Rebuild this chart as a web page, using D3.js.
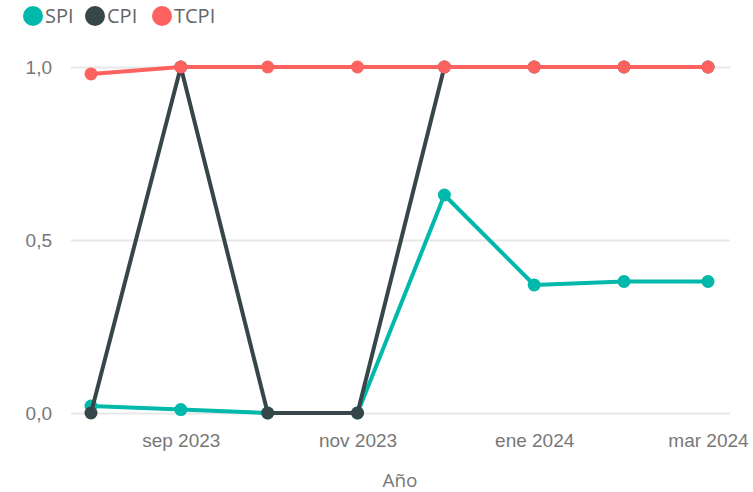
<!DOCTYPE html>
<html><head><meta charset="utf-8">
<script src="https://cdn.jsdelivr.net/npm/d3@7"></script>
<style>body{margin:0;background:#fff;}svg{display:block;font-family:"Open Sans","Noto Sans",sans-serif;}</style>
</head><body>
<svg id="c" width="753" height="492"></svg>
<script>
const dates = ["2023-08-01","2023-09-01","2023-10-01","2023-11-01","2023-12-01","2024-01-01","2024-02-01","2024-03-01"];
const spi  = [0.02, 0.01, 0.00, 0.00, 0.63, 0.37, 0.38, 0.38];
const cpi  = [0.00, 1.00, 0.00, 0.00, 1.00, 1.00, 1.00, 1.00];
const tcpi = [0.98, 1.00, 1.00, 1.00, 1.00, 1.00, 1.00, 1.00];
const seriesNames = ["SPI","CPI","TCPI"];
const colors = ["#01B8AA","#374649","#FD625E"];
const yTicks = [0, 0.5, 1.0];
const yTickLabels = ["0,0","0,5","1,0"];
const xTicks = ["2023-09-01","2023-11-01","2024-01-01","2024-03-01"];
const xTickLabels = ["sep 2023","nov 2023","ene 2024","mar 2024"];
const xTitle = "Año";

const parse = d3.timeParse("%Y-%m-%d");
const svg = d3.select("#c");
const x = d3.scaleTime().domain([parse(dates[0]), parse(dates[dates.length-1])]).range([91, 708]);
const y = d3.scaleLinear().domain([0, 1]).range([413, 67]);

const yAxis = d3.axisLeft(y).tickValues(yTicks).tickSize(-659).tickPadding(20)
  .tickFormat((d,i) => yTickLabels[i]);
const gy = svg.append("g").attr("transform","translate(71,0)").call(yAxis);
gy.select(".domain").remove();
gy.selectAll(".tick line").attr("stroke","#e8e8e8").attr("stroke-width",2);
gy.selectAll(".tick text").attr("fill","#777").attr("font-size","19px").attr("x",-19).attr("text-anchor","end");

const xAxis = d3.axisBottom(x).tickValues(xTicks.map(parse)).tickSize(0).tickPadding(13)
  .tickFormat((d,i) => xTickLabels[i]);
const gx = svg.append("g").attr("transform","translate(0,421)").call(xAxis);
gx.select(".domain").remove();
gx.selectAll(".tick text").attr("fill","#777").attr("font-size","19px");

svg.append("text").attr("x",400).attr("y",487).attr("text-anchor","middle")
  .attr("fill","#777").attr("font-size","19px").text(xTitle);

const all = [spi, cpi, tcpi];
const line = d3.line().x((d,i) => x(parse(dates[i]))).y(d => y(d));
all.forEach((vals, k) => {
  const g = svg.append("g");
  g.append("path").datum(vals).attr("d", line).attr("fill","none")
    .attr("stroke", colors[k]).attr("stroke-width",4).attr("stroke-linejoin","round");
  g.selectAll("circle").data(vals).join("circle")
    .attr("cx",(d,i) => x(parse(dates[i]))).attr("cy", d => y(d)).attr("r",6.5)
    .attr("fill", colors[k]);
});

const legX = [33, 95, 162];
const leg = svg.append("g");
seriesNames.forEach((n,k) => {
  leg.append("circle").attr("cx",legX[k]).attr("cy",16).attr("r",10).attr("fill",colors[k]);
  leg.append("text").attr("x",legX[k]+12).attr("y",23).attr("fill","#666").attr("font-size","20px").text(n);
});
</script>
</body></html>
